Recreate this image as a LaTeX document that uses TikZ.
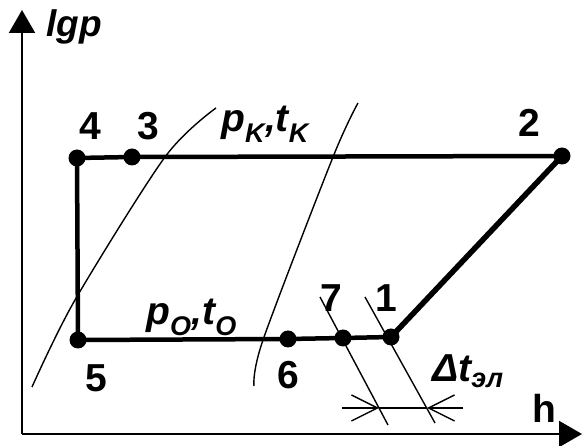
\documentclass[tikz,border=0pt]{standalone}
\usepackage{fontspec}
\setmainfont{Liberation Sans}
\usepackage{tikz}
\usetikzlibrary{arrows.meta,positioning,calc}

\tikzset{
  pt/.style={circle,fill=black,inner sep=0pt,minimum size=17pt},
  num/.style={anchor=base,inner sep=0pt,font=\fontsize{39}{44}\selectfont\bfseries},
  lbl/.style={anchor=base west,inner sep=0pt,font=\fontsize{39}{44}\selectfont\bfseries\itshape},
  cyc/.style={line width=4.5pt},
  thinl/.style={line width=1.4pt},
  axis/.style={line width=2pt,-{Triangle[length=23pt,width=26pt]}}
}
\newcommand{\sub}[1]{\textsubscript{\fontsize{27}{30}\selectfont #1}}

\begin{document}
\begin{tikzpicture}[x=1pt,y=-1pt]
        \useasboundingbox (0,0) rectangle (582,446);
        % axes
        \coordinate (o) at (22,434);
        \coordinate (ytip) at (22,10);
        \coordinate (xtip) at (582,434);
        \draw[axis] (o) -- (ytip);
        \draw[axis] (o) -- (xtip);
        \node[lbl,font=\fontsize{37}{42}\selectfont\bfseries\itshape] (lgp) at (46,37) {lgp};
        \node[num] (h) at (544,423) {h};
        % saturation lines
        \draw[thinl] plot[smooth] coordinates {(32,387) (75,300) (165,157) (216,108)};
        \draw[thinl] plot[smooth] coordinates {(254,386) (263,340) (333,157) (358,103)};
        % state points
        \node[pt] (p4) at (77,158) {};
        \node[pt] (p3) at (132,157) {};
        \node[pt] (p2) at (562,156) {};
        \node[pt] (p5) at (78,340) {};
        \node[pt] (p6) at (288,339) {};
        \node[pt] (p7) at (343,338) {};
        \node[pt] (p1) at (391,337) {};
        \draw[cyc] (p4.center) -- (p3.center) -- (p2.center);
        \draw[cyc] (p4.center) -- (p5.center) -- (p6.center) -- (p7.center) -- (p1.center);
        \draw[line width=5.5pt] (p1.center) -- (p2.center);
        \node[num] (n4) at (90,140) {4};
        \node[num] (n3) at (148,140) {3};
        \node[num] (n2) at (529,137) {2};
        \node[num] (n5) at (96,392) {5};
        \node[num] (n6) at (288,389) {6};
        \node[num] (n7) at (331,312) {7};
        \node[num] (n1) at (386,312) {1};
        \node[lbl] (pk) at (221,132) {p\sub{K},t\sub{K}};
        \node[lbl] (po) at (146,325) {p\sub{O},t\sub{O}};
        % temperature difference
        \coordinate (a7) at (320,297);
        \coordinate (b7) at (388,425);
        \coordinate (a1) at (365,297);
        \coordinate (b1) at (435,423);
        \draw[thinl] (a7) -- (b7);
        \draw[thinl] (a1) -- (b1);
        \coordinate (c7) at (379,408);
        \coordinate (c1) at (427,408);
        \coordinate (dl) at (342,408);
        \coordinate (dr) at (463,408);
        \draw[thinl] (c7) -- (c1);
        \draw[thinl,-{Straight Barb[length=26pt,width=26pt]}] (dl) -- (c7);
        \draw[thinl,-{Straight Barb[length=26pt,width=26pt]}] (dr) -- (c1);
        \node[lbl] (dt) at (432,382) {Δt\sub{эл}};
      \end{tikzpicture}
\end{document}
